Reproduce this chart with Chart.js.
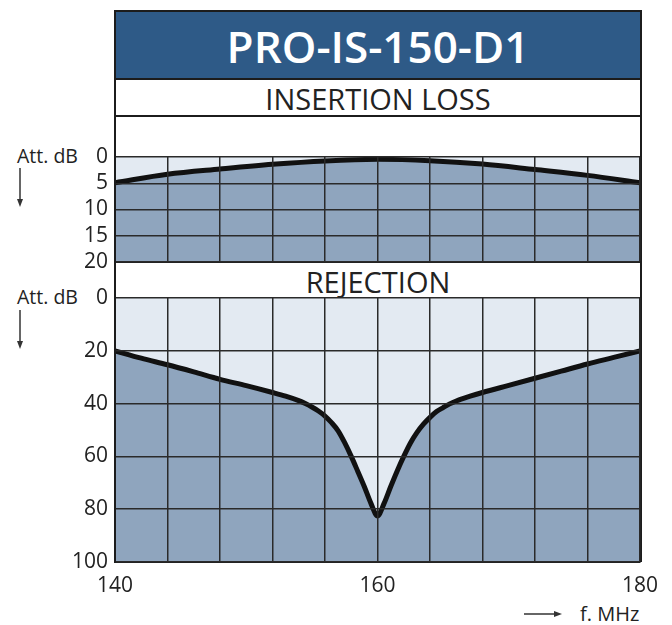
<!DOCTYPE html>
<html>
<head>
<meta charset="utf-8">
<script src="https://cdn.jsdelivr.net/npm/chart.js@4.4.1/dist/chart.umd.min.js"></script>
<style>
  html, body { margin: 0; padding: 0; background: #fff; }
  body { width: 672px; height: 625px; position: relative; overflow: hidden; font-family: "Open Sans", sans-serif; color: #222; }
  .abs { position: absolute; }
  #frame { left: 114px; top: 10px; width: 524px; height: 550px; border: 2px solid #1c1c1c; border-bottom: none; }
  #titleBand { left: 116px; top: 12px; width: 524px; height: 66px; background: #2e5a87; border-bottom: 2px solid #1c1c1c;
    color: #fff; font-weight: 600; font-size: 44px; line-height: 68px; text-align: center; }
  .band { left: 116px; width: 524px; background: #fff; text-align: center; font-size: 29px; color: #222; }
  #ilBand { top: 80px; height: 35px; line-height: 37px; border-bottom: 2px solid #1c1c1c; }
  #rejBand { top: 263px; height: 34px; line-height: 38px; }
  .att { left: 17px; font-size: 19.5px; line-height: 22px; }
  canvas { position: absolute; left: 0; }
  #xlab { left: 580px; top: 603px; font-size: 20px; line-height: 22px; }
</style>
</head>
<body>
<div id="frame" class="abs"></div>
<div id="titleBand" class="abs">PRO-IS-150-D1</div>
<div id="ilBand" class="abs band">INSERTION LOSS</div>
<div id="rejBand" class="abs band">REJECTION</div>

<div class="abs att" style="top:145px">Att. dB</div>
<div class="abs att" style="top:286px">Att. dB</div>
<svg class="abs" style="left:14px;top:166px" width="12" height="42">
  <line x1="6" y1="2" x2="6" y2="36" stroke="#333" stroke-width="1.5"/>
  <polygon points="3,33 9,33 6,41" fill="#333"/>
</svg>
<svg class="abs" style="left:14px;top:308px" width="12" height="42">
  <line x1="6" y1="2" x2="6" y2="36" stroke="#333" stroke-width="1.5"/>
  <polygon points="3,33 9,33 6,41" fill="#333"/>
</svg>
<svg class="abs" style="left:522px;top:607px" width="42" height="14">
  <line x1="2" y1="7" x2="34" y2="7" stroke="#333" stroke-width="1.5"/>
  <polygon points="32,4 32,10 40,7" fill="#333"/>
</svg>
<div id="xlab" class="abs">f. MHz</div>

<canvas id="chartIL" width="672" height="145" style="top:137px"></canvas>
<canvas id="chartRej" width="672" height="347" style="top:278px"></canvas>

<script>
// Insertion loss (dB) vs frequency (MHz)
const ilFreq = [140, 144, 148, 152, 156, 160, 164, 168, 172, 176, 180];
const ilAtt  = [4.9, 3.3, 2.3, 1.4, 0.75, 0.45, 0.7, 1.35, 2.4, 3.5, 4.9];

// Rejection (dB) vs frequency (MHz)
const rejFreq = [140, 142, 144, 146, 148, 150, 152, 153, 154, 154.5, 155, 155.5, 156, 156.5, 157, 157.5,
                 158, 158.5, 159, 159.5, 160, 160.5, 161, 161.5, 162, 162.5, 163, 163.5, 164, 164.5,
                 165, 165.5, 166, 167, 168, 170, 172, 174, 176, 178, 180];
const rejAtt  = [20, 22.8, 25.3, 28, 30.8, 33.2, 35.8, 37.2, 38.9, 40, 41.3, 42.8, 44.7, 47.2, 50.3, 54.8,
                 60, 65.7, 71.5, 77.8, 82.5, 77.8, 71.5, 65.5, 60, 55, 51, 47.8, 45.2, 43,
                 41.5, 40.1, 39, 37.3, 35.8, 33.1, 30.4, 27.7, 25, 22.5, 20];

const xTicks = [140, 160, 180];
const ilMax = 20, ilStep = 5;
const rejMax = 100, rejStep = 20;

const lightFill = "#e3eaf2";
const darkFill = "#8fa5be";
const gridColor = "#2a2a2a";
const tickFont = { family: "Open Sans", size: 21 };

// pinta el fondo claro del area del grafico
const areaBg = {
  id: "areaBg",
  beforeDatasetsDraw(chart) {
    const { ctx, chartArea: a } = chart;
    ctx.save();
    ctx.fillStyle = lightFill;
    ctx.fillRect(a.left, a.top, a.right - a.left, a.bottom - a.top);
    ctx.restore();
  }
};

function toPoints(xs, ys) {
  return xs.map((x, i) => ({ x, y: ys[i] }));
}

function makeChart(canvas, xs, ys, yMax, yStep, showX) {
  return new Chart(canvas, {
    type: "line",
    data: {
      datasets: [{
        data: toPoints(xs, ys),
        borderColor: "#111",
        borderWidth: 5,
        pointRadius: 0,
        cubicInterpolationMode: "monotone",
        fill: { value: yMax },
        backgroundColor: darkFill,
      }],
    },
    options: {
      animation: false,
      responsive: false,
      layout: { padding: { top: 20, bottom: showX ? 0 : 20, left: 0, right: 32 } },
      plugins: { legend: { display: false }, tooltip: { enabled: false } },
      scales: {
        x: {
          type: "linear",
          min: 140,
          max: 180,
          afterBuildTicks: (s) => {
            s.ticks = [];
            for (let v = 140; v <= 180; v += 4) s.ticks.push({ value: v });
          },
          afterFit: (s) => { s.height = showX ? 63 : 0; },
          ticks: {
            display: showX,
            autoSkip: false,
            maxRotation: 0,
            padding: 11,
            color: "#222",
            font: tickFont,
            callback: (v) => (xTicks.includes(v) ? String(v) : ""),
          },
          grid: { color: gridColor, lineWidth: 1.5, drawTicks: false, z: 1 },
          border: { color: "#1c1c1c", width: 2, z: 1 },
        },
        y: {
          min: 0,
          max: yMax,
          reverse: true,
          afterFit: (s) => { s.width = 115; },
          ticks: { stepSize: yStep, autoSkip: false, padding: 7, color: "#222", font: tickFont },
          grid: { color: gridColor, lineWidth: 1.5, drawTicks: false, z: 1 },
          border: { color: "#1c1c1c", width: 2, z: 1 },
        },
      },
    },
    plugins: [areaBg],
  });
}

makeChart(document.getElementById("chartIL"), ilFreq, ilAtt, ilMax, ilStep, false);
makeChart(document.getElementById("chartRej"), rejFreq, rejAtt, rejMax, rejStep, true);
</script>
</body>
</html>
